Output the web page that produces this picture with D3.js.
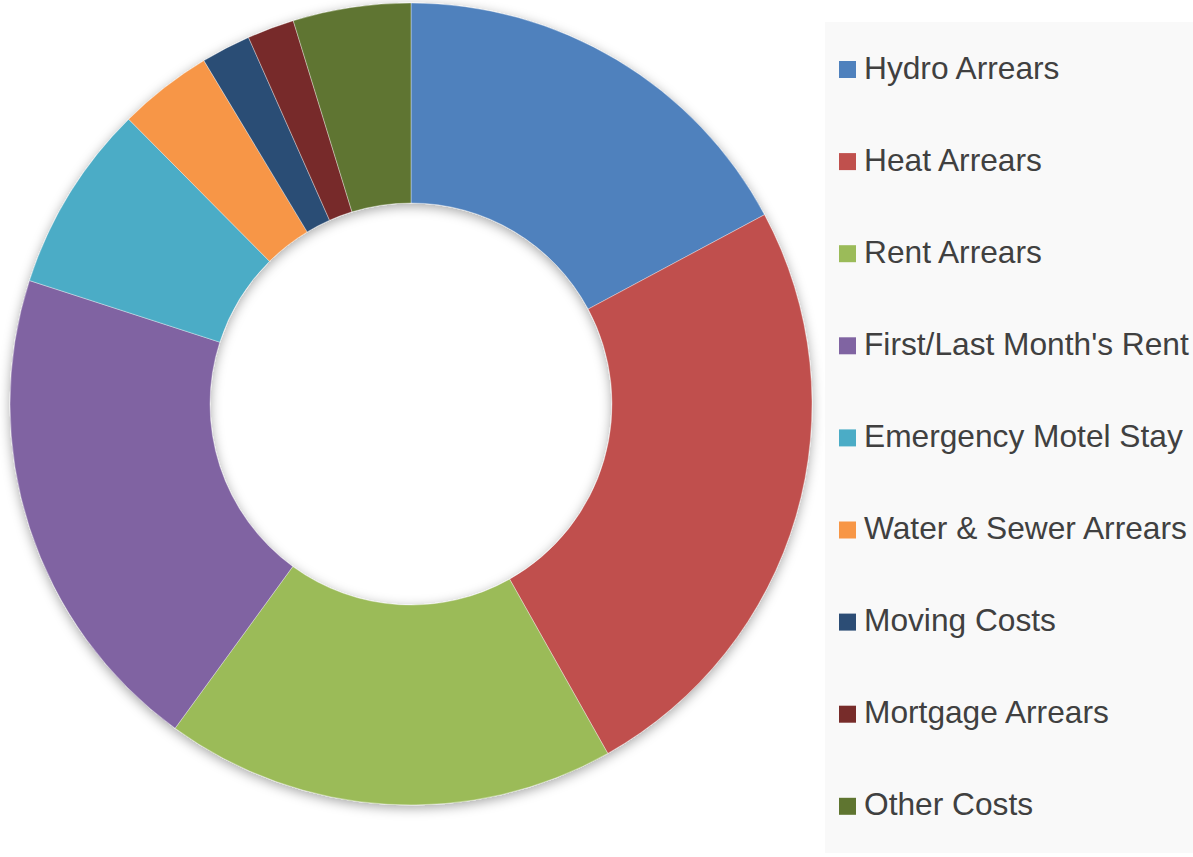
<!DOCTYPE html>
<html><head><meta charset="utf-8">
<script src="https://cdn.jsdelivr.net/npm/d3@7"></script>
<style>html,body{margin:0;padding:0;background:#fff;}svg{display:block;}</style>
</head><body>
<svg id="chart" width="1193" height="857"></svg>
<script>
const categories = ["Hydro Arrears","Heat Arrears","Rent Arrears","First/Last Month's Rent","Emergency Motel Stay","Water & Sewer Arrears","Moving Costs","Mortgage Arrears","Other Costs"];
const values = [17.2, 24.7, 18.2, 20.0, 7.6, 3.8, 2.0, 1.9, 4.75];
const colors = ["#4F81BD","#C0504D","#9BBB59","#8064A2","#4BACC6","#F79646","#2C4D75","#772C2A","#5F7530"];

const svg = d3.select("#chart");
const cx = 411, cy = 404, rOuter = 401, rInner = 201;

const defs = svg.append("defs");
const f = defs.append("filter").attr("id","sh").attr("x","-10%").attr("y","-10%").attr("width","120%").attr("height","120%");
f.append("feDropShadow").attr("dx",0).attr("dy",3).attr("stdDeviation",6).attr("flood-color","#000").attr("flood-opacity",0.35);

const data = categories.map((c,i)=>({name:c, value:values[i], color:colors[i]}));
const pie = d3.pie().value(d=>d.value).sort(null);
const arc = d3.arc().innerRadius(rInner).outerRadius(rOuter);

const g = svg.append("g").attr("transform",`translate(${cx},${cy})`).attr("filter","url(#sh)");
g.selectAll("path").data(pie(data)).join("path")
  .attr("d",arc).attr("fill",d=>d.data.color)
  .attr("stroke","#fff").attr("stroke-width",0.6).attr("stroke-opacity",0.6);

// legend
svg.append("rect").attr("x",825).attr("y",22).attr("width",368).attr("height",831).attr("fill","#F9F9F9");
const leg = svg.append("g");
const step = 92.1;
const items = leg.selectAll("g").data(data).join("g").attr("transform",(d,i)=>`translate(839,${61+i*step})`);
items.append("rect").attr("width",17).attr("height",17).attr("fill",d=>d.color);
items.append("text").attr("x",25).attr("y",17.5).text(d=>d.name)
  .style("font-family","'Liberation Sans', Arial, sans-serif").style("font-size","31.7px").attr("fill","#404040");
</script>
</body></html>
